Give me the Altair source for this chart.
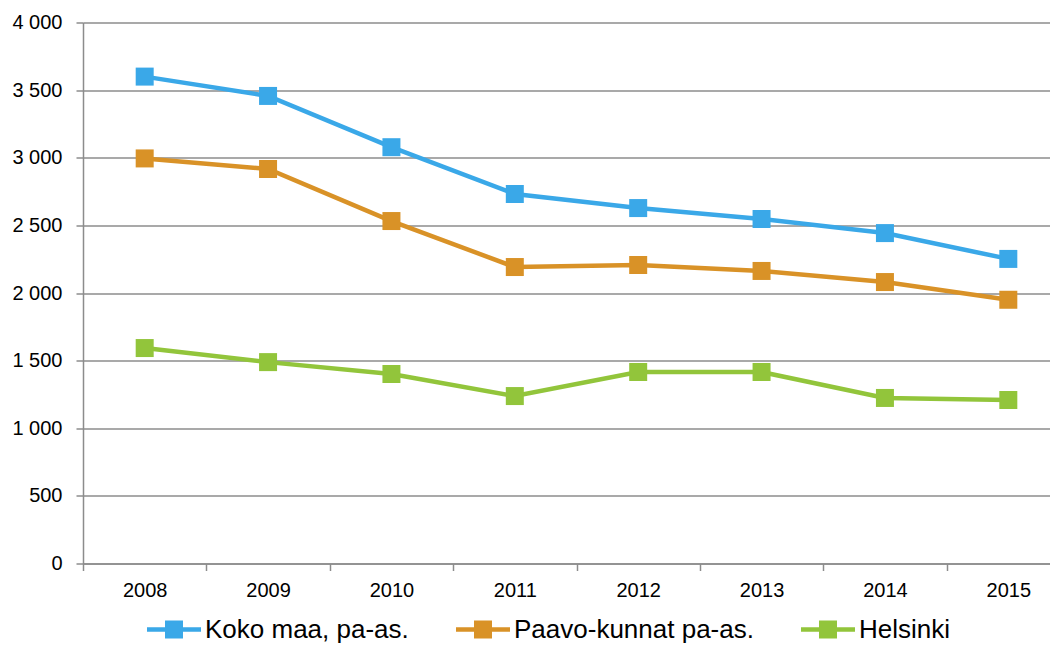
import altair as alt
import pandas as pd

years = [2008, 2009, 2010, 2011, 2012, 2013, 2014, 2015]
series_names = ["Koko maa, pa-as.", "Paavo-kunnat pa-as.", "Helsinki"]
koko_maa = [3600, 3457, 3078, 2732, 2628, 2547, 2443, 2252]
paavo_kunnat = [2995, 2917, 2532, 2192, 2207, 2163, 2081, 1950]
helsinki = [1593, 1489, 1401, 1238, 1416, 1416, 1224, 1209]
colors = ["#3AA8E8", "#D99227", "#92C53B"]
y_ticks = [0, 500, 1000, 1500, 2000, 2500, 3000, 3500, 4000]

rows = []
for name, vals in zip(series_names, [koko_maa, paavo_kunnat, helsinki]):
    for y, v in zip(years, vals):
        rows.append({"year": y, "series": name, "value": v})
df = pd.DataFrame(rows)

FONT = "Liberation Sans"
GRID = "#8c8c8c"

x_enc = alt.X(
    "year:O",
    scale=alt.Scale(type="band", paddingInner=0, paddingOuter=0, range=[0, 987]),
    axis=alt.Axis(
        title=None, labelAngle=0, tickBand="extent", tickSize=7, tickColor=GRID,
        tickWidth=1.5, domainColor=GRID, domainWidth=1.5, labelFont=FONT,
        labelFontSize=20, labelColor="black", labelPadding=10, grid=False,
    ),
)
y_enc = alt.Y(
    "value:Q",
    scale=alt.Scale(domain=[0, 4000], nice=False),
    axis=alt.Axis(
        title=None, values=y_ticks, grid=True, gridColor=GRID, gridWidth=1.5,
        tickSize=7, tickColor=GRID, tickWidth=1.5, domainColor=GRID, domainWidth=1.5,
        labelFont=FONT, labelFontSize=20, labelColor="black", labelPadding=14,
        labelExpr="replace(format(datum.value, ','), ',', ' ')",
    ),
)

color_scale = alt.Scale(domain=series_names, range=colors)
legend_symbol = "M-1,-0.085H1V0.085H-1Z M-0.333,-0.333H0.333V0.333H-0.333Z"


def make_legend():
    return alt.Legend(
        orient="none", legendX=64, legendY=580, direction="horizontal",
        title=None, symbolType=legend_symbol, symbolSize=2916,
        symbolStrokeWidth=0, symbolOpacity=1, labelFontSize=26, labelFont=FONT,
        labelColor="black", labelOffset=4, columnPadding=47, padding=0,
        labelLimit=0,
    )


lines = alt.Chart().mark_line(strokeWidth=4.5).encode(
    x=x_enc, y=y_enc,
    stroke=alt.Stroke("series:N", scale=color_scale, legend=make_legend()),
)
points = alt.Chart().mark_point(filled=True, shape="square", size=324, opacity=1).encode(
    x=x_enc, y=y_enc,
    fill=alt.Fill("series:N", scale=color_scale, legend=make_legend()),
)

chart = alt.layer(lines, points, data=df).properties(
    width=967, height=541,
    padding={"left": 75, "top": 14.5, "right": 0, "bottom": 81.5},
    autosize=alt.AutoSizeParams(type="none"),
).configure_view(stroke=None)

chart.save("out.html", embed_options={"renderer": "svg", "actions": False})
